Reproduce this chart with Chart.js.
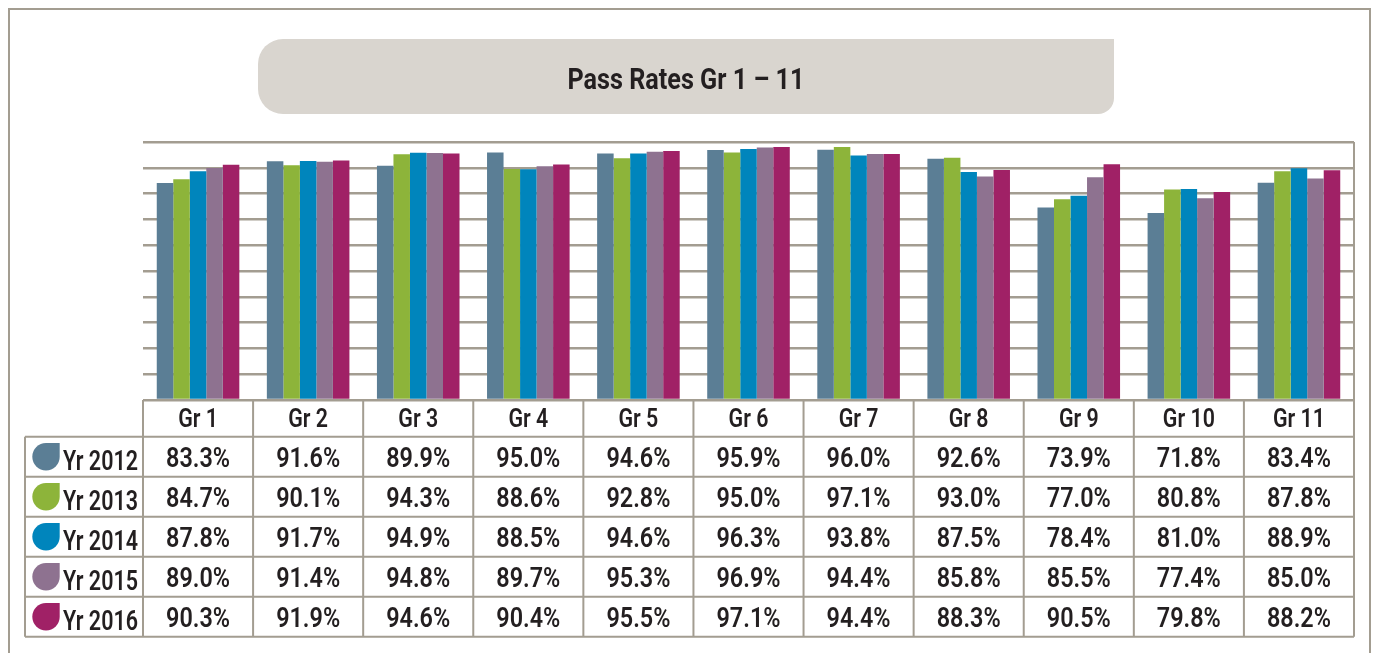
<!DOCTYPE html>
<html>
<head>
<meta charset="utf-8">
<script src="https://cdn.jsdelivr.net/npm/chart.js@4/dist/chart.umd.min.js"></script>
<style>
  html, body { margin: 0; padding: 0; background: #fff; overflow: hidden; }
  #pass-chart { display: block; }
</style>
</head>
<body>
<canvas id="pass-chart" width="1373" height="653"></canvas>
<script>
// Pass rates per grade, one list per year (as printed in the table)
const grades = ['Gr 1', 'Gr 2', 'Gr 3', 'Gr 4', 'Gr 5', 'Gr 6', 'Gr 7', 'Gr 8', 'Gr 9', 'Gr 10', 'Gr 11'];
const years = ['Yr 2012', 'Yr 2013', 'Yr 2014', 'Yr 2015', 'Yr 2016'];
const yr2012 = [83.3, 91.6, 89.9, 95.0, 94.6, 95.9, 96.0, 92.6, 73.9, 71.8, 83.4];
const yr2013 = [84.7, 90.1, 94.3, 88.6, 92.8, 95.0, 97.1, 93.0, 77.0, 80.8, 87.8];
const yr2014 = [87.8, 91.7, 94.9, 88.5, 94.6, 96.3, 93.8, 87.5, 78.4, 81.0, 88.9];
const yr2015 = [89.0, 91.4, 94.8, 89.7, 95.3, 96.9, 94.4, 85.8, 85.5, 77.4, 85.0];
const yr2016 = [90.3, 91.9, 94.6, 90.4, 95.5, 97.1, 94.4, 88.3, 90.5, 79.8, 88.2];
const colors = ['#5b7e95', '#8db43a', '#0085bc', '#8e7290', '#a02166'];
const title = 'Pass Rates Gr 1 \u2013 11';

const seriesValues = [yr2012, yr2013, yr2014, yr2015, yr2016];
const lineColor = '#a39d91';
const textColor = '#231f20';
const FONT = 'Roboto, "DejaVu Sans", sans-serif';

// the original uses a narrow face, so squeeze text horizontally
// sx = wanted width of sample / natural width of sample
function squeeze(c, sample, wanted) {
  return Math.min(1, wanted / c.measureText(sample).width);
}
function narrowText(c, text, x, y, sx) {
  c.save();
  c.translate(x, y);
  c.scale(sx, 1);
  c.fillText(text, 0, 0);
  c.restore();
}

// frame, title box, data table with legend markers
const decorations = {
  id: 'decorations',
  beforeDraw(chart) {
    const c = chart.ctx;
    c.save();
    c.fillStyle = '#fff';
    c.fillRect(0, 0, chart.width, chart.height);
    // outer frame
    c.strokeStyle = lineColor;
    c.lineWidth = 2;
    c.strokeRect(9, 9, 1361, 700);
    // title box, top right corner square
    c.fillStyle = '#d9d5cf';
    c.beginPath();
    c.roundRect(258, 39, 856, 75, [25, 0, 16, 25]);
    c.fill();
    c.fillStyle = textColor;
    c.font = 'bold 30px ' + FONT;
    c.textAlign = 'center';
    c.textBaseline = 'alphabetic';
    narrowText(c, title, 686, 89, squeeze(c, title, 237));
    c.restore();
  },
  afterDraw(chart) {
    const c = chart.ctx;
    const area = chart.chartArea;
    const xs = chart.scales.x;
    const colW = (area.right - area.left) / grades.length;
    const top = area.bottom;
    const headH = 36.7;
    const rowH = 40;
    const labelLeft = 25;
    const bottom = top + headH + rowH * years.length;
    c.save();
    c.strokeStyle = lineColor;
    c.lineWidth = 2;
    // right border of plot + table
    c.beginPath();
    c.moveTo(area.right, area.top);
    c.lineTo(area.right, bottom);
    // column lines
    for (let i = 0; i < grades.length; i++) {
      const x = area.left + i * colW;
      c.moveTo(x, top);
      c.lineTo(x, bottom);
    }
    // row lines
    for (let r = 0; r <= years.length; r++) {
      const y = top + headH + r * rowH;
      c.moveTo(labelLeft, y);
      c.lineTo(area.right, y);
    }
    c.moveTo(labelLeft, top + headH);
    c.lineTo(labelLeft, bottom);
    c.stroke();

    c.fillStyle = textColor;
    c.textAlign = 'center';
    c.textBaseline = 'alphabetic';
    c.font = '600 25px ' + FONT;
    const sxHead = squeeze(c, 'Gr 10', 52);
    grades.forEach((g, i) => {
      narrowText(c, g, xs.getPixelForValue(i), top + headH / 2 + 9, sxHead);
    });
    c.font = '600 28px ' + FONT;
    const sxVal = squeeze(c, '83.3%', 64);
    const sxYr = squeeze(c, 'Yr 2012', 75);
    years.forEach((yr, r) => {
      const cy = top + headH + r * rowH + rowH / 2;
      // legend marker: round drop with square top-right corner
      const mx = 46, rad = 13.7;
      c.fillStyle = colors[r];
      c.beginPath();
      c.moveTo(mx + rad, cy - rad);
      c.lineTo(mx + rad, cy);
      c.arc(mx, cy, rad, 0, Math.PI * 1.5);
      c.closePath();
      c.fill();
      c.fillStyle = textColor;
      c.textAlign = 'left';
      narrowText(c, yr, 63, cy + 13, sxYr);
      c.textAlign = 'center';
      seriesValues[r].forEach((v, i) => {
        narrowText(c, v.toFixed(1) + '%', xs.getPixelForValue(i), cy + 10, sxVal);
      });
    });
    c.restore();
  }
};

const ctx = document.getElementById('pass-chart').getContext('2d');
const chart = new Chart(ctx, {
  type: 'bar',
  data: {
    labels: grades,
    datasets: years.map((yr, i) => ({
      label: yr,
      data: seriesValues[i],
      backgroundColor: colors[i],
      borderWidth: 0,
      categoryPercentage: 0.75,
      barPercentage: 1.0
    }))
  },
  options: {
    responsive: false,
    animation: false,
    devicePixelRatio: 1,
    layout: { padding: { left: 143, right: 19, top: 142, bottom: 253 } },
    plugins: {
      legend: { display: false },
      title: { display: false },
      tooltip: { enabled: false }
    },
    scales: {
      x: { display: false },
      y: {
        min: 0,
        max: 99,
        afterBuildTicks: (scale) => {
          scale.ticks = Array.from({ length: 11 }, (_, i) => ({ value: i * 9.9 }));
        },
        afterFit: (scale) => { scale.width = 0; },
        ticks: { display: false },
        border: { display: false },
        grid: { color: lineColor, lineWidth: 2.5, drawTicks: false }
      }
    }
  },
  plugins: [decorations]
});
</script>
</body>
</html>
